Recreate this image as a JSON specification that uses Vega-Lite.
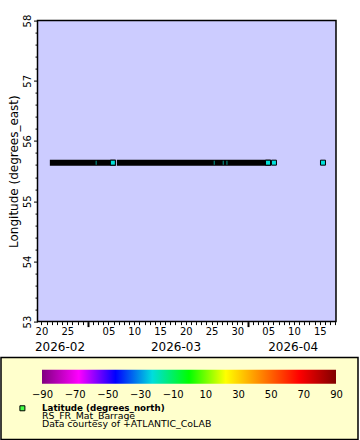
{
  "$schema": "https://vega.github.io/schema/vega-lite/v6.json",
  "background": "white",
  "padding": {"left": 0, "top": 13.6, "right": 0, "bottom": 0},
  "spacing": 4,
  "config": {"font": "DejaVu Sans", "view": {"stroke": null}, "axis": {"labelColor": "#000", "titleColor": "#000", "tickColor": "#000"}},
  "datasets": {
    "frame": [
      {"from": "2026-02-19T05:30:00Z", "to": "2026-04-18T03:40:00Z", "lonMin": 53, "lonMax": 58}
    ],
    "segments": [
      {"start": "2026-02-22T05:00:00Z", "end": "2026-03-05T20:30:00Z", "lon": 55.64},
      {"start": "2026-03-07T05:00:00Z", "end": "2026-04-04T23:00:00Z", "lon": 55.64}
    ],
    "points": [
      {"time": "2026-03-05T20:30:00Z", "lon": 55.64, "lat": -21.05},
      {"time": "2026-04-04T23:00:00Z", "lon": 55.64, "lat": -21.05},
      {"time": "2026-04-06T02:40:00Z", "lon": 55.64, "lat": -21.05},
      {"time": "2026-04-15T15:00:00Z", "lon": 55.64, "lat": -21.05}
    ],
    "gaps": [
      {"time": "2026-03-02T14:40:00Z", "lon": 55.64},
      {"time": "2026-03-25T12:30:00Z", "lon": 55.64},
      {"time": "2026-03-27T06:30:00Z", "lon": 55.64},
      {"time": "2026-03-27T23:45:00Z", "lon": 55.64}
    ],
    "legendLines": [
      {"line": 1, "label": "Latitude (degrees_north)"},
      {"line": 2, "label": "RS_FR_Mat_Barrage"},
      {"line": 3, "label": "Data courtesy of +ATLANTIC_CoLAB"}
    ]
  },
  "vconcat": [
    {
      "width": 357,
      "height": 301,
      "resolve": {"axis": {"x": "independent"}},
      "encoding": {
        "y": {
          "field": "lon", "type": "quantitative",
          "scale": {"domain": [53, 58], "nice": false, "zero": false},
          "axis": {
            "offset": -36.5,
            "title": ["", "Longitude (degrees_east)"],
            "titleLineHeight": 6,
            "titleFontSize": 12,
            "titleFontWeight": "normal",
            "titlePadding": 2,
            "values": [53, 53.2, 53.4, 53.6, 53.8, 54, 54.2, 54.4, 54.6, 54.8, 55, 55.2, 55.4, 55.6, 55.8, 56, 56.2, 56.4, 56.6, 56.8, 57, 57.2, 57.4, 57.6, 57.8, 58],
            "labelExpr": "datum.value % 1 == 0 ? format(datum.value, 'd') : ''",
            "labelAngle": 270,
            "labelAlign": "center",
            "labelBaseline": "bottom",
            "labelFontSize": 10,
            "labelPadding": 1,
            "tickSize": {"condition": {"test": "datum.value % 1 == 0", "value": 4}, "value": 2.5},
            "domain": false,
            "grid": false,
            "labelOverlap": false,
            "labelFlush": false
          }
        }
      },
      "layer": [
        {
          "data": {"name": "frame"},
          "mark": {"type": "rect", "fill": "#ccccff", "stroke": "#000", "strokeWidth": 1.5},
          "encoding": {
            "x": {"field": "from", "type": "temporal", "axis": null},
            "x2": {"field": "to"},
            "y": {"field": "lonMin", "type": "quantitative"},
            "y2": {"field": "lonMax"}
          }
        },
        {
          "data": {"name": "segments"},
          "mark": {"type": "rule", "strokeWidth": 6, "strokeCap": "square", "color": "#000"},
          "encoding": {
            "x": {
              "field": "start", "type": "temporal",
              "scale": {"type": "utc", "nice": false, "range": [36.5, 335], "domain": [1771479000000, 1776483600000]},
              "axis": {
                "orient": "bottom",
                "title": null,
                "tickCount": {"interval": "day", "step": 1},
                "labelExpr": "utcdate(datum.value) % 5 == 0 ? utcFormat(datum.value, '%d') : ''",
                "tickSize": {"condition": {"test": "utcdate(datum.value) == 1", "value": 5}, "value": 3},
                "tickWidth": {"condition": {"test": "utcdate(datum.value) == 1", "value": 2}, "value": 1},
                "labelFontSize": 10,
                "labelPadding": 2,
                "domain": false,
                "grid": false,
                "labelOverlap": false,
                "labelFlush": false,
                "labelBound": false
              }
            },
            "x2": {"field": "end"}
          }
        },
        {
          "data": {"name": "gaps"},
          "mark": {"type": "tick", "orient": "vertical", "thickness": 1, "size": 4, "color": "#00dccc"},
          "encoding": {
            "x": {"field": "time", "type": "temporal", "axis": null}
          }
        },
        {
          "data": {"name": "points"},
          "mark": {"type": "point", "shape": "square", "filled": true, "size": 25, "stroke": "#000", "strokeWidth": 1, "opacity": 1},
          "encoding": {
            "x": {
              "field": "time", "type": "temporal",
              "axis": {
                "orient": "bottom",
                "offset": 18,
                "title": null,
                "values": [
                  {"year": 2026, "month": 2, "date": 23, "hours": 12, "utc": true},
                  {"year": 2026, "month": 3, "date": 18, "hours": 0, "utc": true},
                  {"year": 2026, "month": 4, "date": 9, "hours": 18, "utc": true}
                ],
                "labelExpr": "utcFormat(datum.value, '%Y-%m')",
                "ticks": false,
                "tickSize": 0,
                "labelFontSize": 12,
                "labelPadding": 2,
                "domain": false,
                "grid": false,
                "labelOverlap": false,
                "labelFlush": false,
                "labelBound": false
              }
            },
            "color": {
              "field": "lat", "type": "quantitative",
              "scale": {
                "domain": [-90, -67.5, -45, -22.5, 0, 22.5, 45, 67.5, 90],
                "range": ["#800080", "#ff00ff", "#0000ff", "#00dddd", "#00ff00", "#ffff00", "#ff8000", "#ff0000", "#800000"]
              },
              "legend": null
            }
          }
        }
      ]
    },
    {
      "width": 357,
      "height": 82,
      "view": {"fill": "#ffffcc", "stroke": "#000", "strokeWidth": 1.5},
      "encoding": {
        "y": {"type": "quantitative", "scale": {"domain": [-4.78, 4.33], "reverse": true, "nice": false, "zero": false}, "axis": null}
      },
      "layer": [
        {
          "data": {"values": [{"lo": -90, "hi": 90}]},
          "mark": {"type": "bar", "size": 14, "color": {
            "gradient": "linear", "x1": 0, "y1": 0, "x2": 1, "y2": 0,
            "stops": [
              {"offset": 0, "color": "#800080"},
              {"offset": 0.125, "color": "#ff00ff"},
              {"offset": 0.25, "color": "#0000ff"},
              {"offset": 0.375, "color": "#00dddd"},
              {"offset": 0.5, "color": "#00ff00"},
              {"offset": 0.625, "color": "#ffff00"},
              {"offset": 0.75, "color": "#ff8000"},
              {"offset": 0.875, "color": "#ff0000"},
              {"offset": 1, "color": "#800000"}
            ]
          }},
          "encoding": {
            "x": {
              "field": "lo", "type": "quantitative",
              "scale": {"domain": [-90, 90], "range": [41, 335], "nice": false, "zero": false},
              "axis": {
                "orient": "bottom", "offset": -54, "title": null,
                "values": [-90, -70, -50, -30, -10, 10, 30, 50, 70, 90],
                "ticks": false, "tickSize": 0, "labelPadding": 4, "labelFontSize": 10,
                "domain": false, "grid": false, "labelOverlap": false, "labelFlush": false
              }
            },
            "x2": {"field": "hi"},
            "y": {"datum": -3.0, "axis": null}
          }
        },
        {
          "data": {"name": "legendLines"},
          "transform": [{"filter": "datum.line == 1"}],
          "mark": {"type": "point", "shape": "square", "filled": true, "size": 25, "fill": "#44ff44", "stroke": "#000", "strokeWidth": 1, "opacity": 1},
          "encoding": {
            "x": {"datum": -102, "axis": {
                "orient": "bottom", "offset": -54, "title": null,
                "values": [-90, -70, -50, -30, -10, 10, 30, 50, 70, 90],
                "ticks": false, "tickSize": 0, "labelPadding": 4, "labelFontSize": 10,
                "domain": false, "grid": false, "labelOverlap": false, "labelFlush": false
              }},
            "y": {"field": "line", "axis": null}
          }
        },
        {
          "data": {"name": "legendLines"},
          "transform": [{"filter": "datum.line == 1"}],
          "mark": {"type": "text", "align": "left", "baseline": "middle", "fontSize": 8.7, "fontWeight": "bold", "color": "#000"},
          "encoding": {
            "x": {"datum": -90, "axis": {
                "orient": "bottom", "offset": -54, "title": null,
                "values": [-90, -70, -50, -30, -10, 10, 30, 50, 70, 90],
                "ticks": false, "tickSize": 0, "labelPadding": 4, "labelFontSize": 10,
                "domain": false, "grid": false, "labelOverlap": false, "labelFlush": false
              }},
            "y": {"field": "line", "axis": null},
            "text": {"field": "label"}
          }
        },
        {
          "data": {"name": "legendLines"},
          "transform": [{"filter": "datum.line != 1"}],
          "mark": {"type": "text", "align": "left", "baseline": "middle", "fontSize": 9.4, "color": "#000"},
          "encoding": {
            "x": {"datum": -90, "axis": {
                "orient": "bottom", "offset": -54, "title": null,
                "values": [-90, -70, -50, -30, -10, 10, 30, 50, 70, 90],
                "ticks": false, "tickSize": 0, "labelPadding": 4, "labelFontSize": 10,
                "domain": false, "grid": false, "labelOverlap": false, "labelFlush": false
              }},
            "y": {"field": "line", "axis": null},
            "text": {"field": "label"}
          }
        }
      ]
    }
  ]
}
